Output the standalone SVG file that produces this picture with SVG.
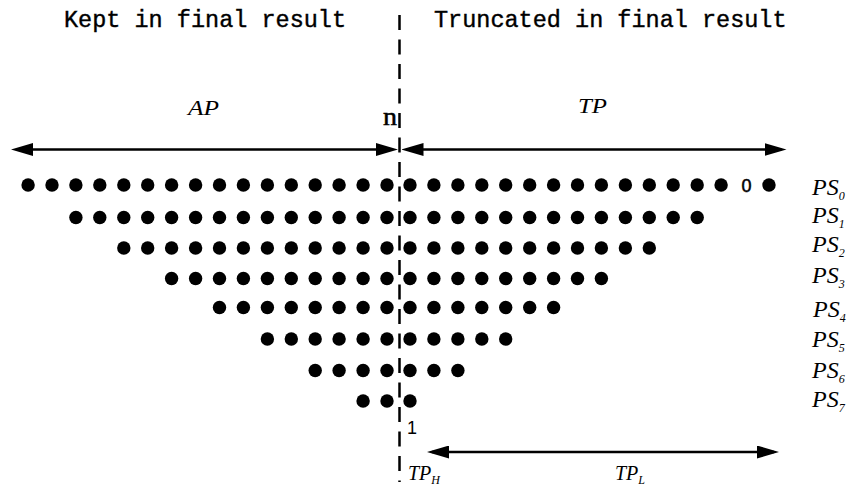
<svg xmlns="http://www.w3.org/2000/svg" xmlns:xlink="http://www.w3.org/1999/xlink" width="851" height="493" viewBox="0 0 851 493">
<style>
.hdr{font-family:"Liberation Mono","DejaVu Sans Mono",monospace;font-size:23.5px;fill:#000;stroke:#000;stroke-width:0.4}
.it{font-family:"Liberation Serif","DejaVu Serif",serif;font-style:italic;fill:#000}
.lab{font-size:24px}
.sub{font-size:12px}
.num{font-family:"Liberation Sans","DejaVu Sans",sans-serif;font-size:18px;fill:#000}
.arr{stroke:#000;stroke-width:2.5;fill:none;marker-start:url(#ah);marker-end:url(#ah)}
.dash{stroke:#000;stroke-width:2.5;stroke-dasharray:15 9.5;fill:none}
</style>
<defs>
<marker id="ah" viewBox="0 0 22 13" markerWidth="22" markerHeight="13" refX="17" refY="6.5" orient="auto-start-reverse" markerUnits="userSpaceOnUse">
<path d="M0,0 L22,6.5 L0,13 z" fill="#000"/>
</marker>
<circle id="dot" r="6.7" fill="#000"/>
</defs>
<rect width="851" height="493" fill="#fff"/>

<g id="headers">
<text class="hdr" x="64" y="27">Kept in final result</text>
<text class="hdr" x="434" y="27">Truncated in final result</text>
</g>

<g id="connectors">
<line class="dash" x1="399.5" y1="15" x2="399.5" y2="482"/>
<line class="arr" x1="16" y1="149.5" x2="393" y2="149.5"/>
<line class="arr" x1="406.5" y1="149.5" x2="781.5" y2="149.5"/>
<line class="arr" x1="432" y1="452" x2="774" y2="452"/>
</g>

<g id="labels">
<text class="it" x="188" y="115" font-size="20" textLength="31" lengthAdjust="spacingAndGlyphs">AP</text>
<text class="it" x="578" y="113" font-size="20" textLength="29" lengthAdjust="spacingAndGlyphs">TP</text>
<text x="383" y="125" font-family="Liberation Serif, serif" font-size="25" stroke="#000" stroke-width="0.5" textLength="14" lengthAdjust="spacingAndGlyphs">n</text>
<text class="num" x="407" y="434">1</text>
<text class="it" x="408" y="480" font-size="20">TP<tspan class="sub" dy="4">H</tspan></text>
<text class="it" x="615" y="480" font-size="20">TP<tspan class="sub" dy="4">L</tspan></text>
</g>

<g id="ps0">
<use href="#dot" x="28.1" y="185"/><use href="#dot" x="52" y="185"/><use href="#dot" x="75.9" y="185"/><use href="#dot" x="99.8" y="185"/><use href="#dot" x="123.8" y="185"/><use href="#dot" x="147.7" y="185"/><use href="#dot" x="171.6" y="185"/><use href="#dot" x="195.6" y="185"/><use href="#dot" x="219.5" y="185"/><use href="#dot" x="243.4" y="185"/><use href="#dot" x="267.4" y="185"/><use href="#dot" x="291.3" y="185"/><use href="#dot" x="315.2" y="185"/><use href="#dot" x="339.1" y="185"/><use href="#dot" x="363.1" y="185"/><use href="#dot" x="387" y="185"/>
<use href="#dot" x="410" y="185"/><use href="#dot" x="433.9" y="185"/><use href="#dot" x="457.9" y="185"/><use href="#dot" x="481.8" y="185"/><use href="#dot" x="505.7" y="185"/><use href="#dot" x="529.7" y="185"/><use href="#dot" x="553.6" y="185"/><use href="#dot" x="577.5" y="185"/><use href="#dot" x="601.4" y="185"/><use href="#dot" x="625.4" y="185"/><use href="#dot" x="649.3" y="185"/><use href="#dot" x="673.2" y="185"/><use href="#dot" x="697.2" y="185"/><use href="#dot" x="721.1" y="185"/>
<text class="num" x="746.5" y="192" text-anchor="middle" font-size="19" stroke="#000" stroke-width="0.5">0</text>
<use href="#dot" x="769" y="185"/>
<text class="it lab" x="812" y="195">PS<tspan class="sub" dy="5">0</tspan></text>
</g>

<g id="ps1">
<use href="#dot" x="75.9" y="217.5"/><use href="#dot" x="99.8" y="217.5"/><use href="#dot" x="123.8" y="217.5"/><use href="#dot" x="147.7" y="217.5"/><use href="#dot" x="171.6" y="217.5"/><use href="#dot" x="195.6" y="217.5"/><use href="#dot" x="219.5" y="217.5"/><use href="#dot" x="243.4" y="217.5"/><use href="#dot" x="267.4" y="217.5"/><use href="#dot" x="291.3" y="217.5"/><use href="#dot" x="315.2" y="217.5"/><use href="#dot" x="339.1" y="217.5"/><use href="#dot" x="363.1" y="217.5"/><use href="#dot" x="387" y="217.5"/>
<use href="#dot" x="410" y="217.5"/><use href="#dot" x="433.9" y="217.5"/><use href="#dot" x="457.9" y="217.5"/><use href="#dot" x="481.8" y="217.5"/><use href="#dot" x="505.7" y="217.5"/><use href="#dot" x="529.7" y="217.5"/><use href="#dot" x="553.6" y="217.5"/><use href="#dot" x="577.5" y="217.5"/><use href="#dot" x="601.4" y="217.5"/><use href="#dot" x="625.4" y="217.5"/><use href="#dot" x="649.3" y="217.5"/><use href="#dot" x="673.2" y="217.5"/><use href="#dot" x="697.2" y="217.5"/>
<text class="it lab" x="812" y="223">PS<tspan class="sub" dy="5">1</tspan></text>
</g>

<g id="ps2">
<use href="#dot" x="123.8" y="248"/><use href="#dot" x="147.7" y="248"/><use href="#dot" x="171.6" y="248"/><use href="#dot" x="195.6" y="248"/><use href="#dot" x="219.5" y="248"/><use href="#dot" x="243.4" y="248"/><use href="#dot" x="267.4" y="248"/><use href="#dot" x="291.3" y="248"/><use href="#dot" x="315.2" y="248"/><use href="#dot" x="339.1" y="248"/><use href="#dot" x="363.1" y="248"/><use href="#dot" x="387" y="248"/>
<use href="#dot" x="410" y="248"/><use href="#dot" x="433.9" y="248"/><use href="#dot" x="457.9" y="248"/><use href="#dot" x="481.8" y="248"/><use href="#dot" x="505.7" y="248"/><use href="#dot" x="529.7" y="248"/><use href="#dot" x="553.6" y="248"/><use href="#dot" x="577.5" y="248"/><use href="#dot" x="601.4" y="248"/><use href="#dot" x="625.4" y="248"/><use href="#dot" x="649.3" y="248"/>
<text class="it lab" x="812" y="252">PS<tspan class="sub" dy="5">2</tspan></text>
</g>

<g id="ps3">
<use href="#dot" x="171.6" y="278.5"/><use href="#dot" x="195.6" y="278.5"/><use href="#dot" x="219.5" y="278.5"/><use href="#dot" x="243.4" y="278.5"/><use href="#dot" x="267.4" y="278.5"/><use href="#dot" x="291.3" y="278.5"/><use href="#dot" x="315.2" y="278.5"/><use href="#dot" x="339.1" y="278.5"/><use href="#dot" x="363.1" y="278.5"/><use href="#dot" x="387" y="278.5"/>
<use href="#dot" x="410" y="278.5"/><use href="#dot" x="433.9" y="278.5"/><use href="#dot" x="457.9" y="278.5"/><use href="#dot" x="481.8" y="278.5"/><use href="#dot" x="505.7" y="278.5"/><use href="#dot" x="529.7" y="278.5"/><use href="#dot" x="553.6" y="278.5"/><use href="#dot" x="577.5" y="278.5"/><use href="#dot" x="601.4" y="278.5"/>
<text class="it lab" x="812" y="283">PS<tspan class="sub" dy="5">3</tspan></text>
</g>

<g id="ps4">
<use href="#dot" x="219.5" y="307.5"/><use href="#dot" x="243.4" y="307.5"/><use href="#dot" x="267.4" y="307.5"/><use href="#dot" x="291.3" y="307.5"/><use href="#dot" x="315.2" y="307.5"/><use href="#dot" x="339.1" y="307.5"/><use href="#dot" x="363.1" y="307.5"/><use href="#dot" x="387" y="307.5"/>
<use href="#dot" x="410" y="307.5"/><use href="#dot" x="433.9" y="307.5"/><use href="#dot" x="457.9" y="307.5"/><use href="#dot" x="481.8" y="307.5"/><use href="#dot" x="505.7" y="307.5"/><use href="#dot" x="529.7" y="307.5"/><use href="#dot" x="553.6" y="307.5"/>
<text class="it lab" x="813" y="317">PS<tspan class="sub" dy="5">4</tspan></text>
</g>

<g id="ps5">
<use href="#dot" x="267.4" y="339"/><use href="#dot" x="291.3" y="339"/><use href="#dot" x="315.2" y="339"/><use href="#dot" x="339.1" y="339"/><use href="#dot" x="363.1" y="339"/><use href="#dot" x="387" y="339"/>
<use href="#dot" x="410" y="339"/><use href="#dot" x="433.9" y="339"/><use href="#dot" x="457.9" y="339"/><use href="#dot" x="481.8" y="339"/><use href="#dot" x="505.7" y="339"/>
<text class="it lab" x="812" y="347">PS<tspan class="sub" dy="5">5</tspan></text>
</g>

<g id="ps6">
<use href="#dot" x="315.2" y="370.5"/><use href="#dot" x="339.1" y="370.5"/><use href="#dot" x="363.1" y="370.5"/><use href="#dot" x="387" y="370.5"/>
<use href="#dot" x="410" y="370.5"/><use href="#dot" x="433.9" y="370.5"/><use href="#dot" x="457.9" y="370.5"/>
<text class="it lab" x="812" y="378">PS<tspan class="sub" dy="5">6</tspan></text>
</g>

<g id="ps7">
<use href="#dot" x="363.1" y="401"/><use href="#dot" x="387" y="401"/>
<use href="#dot" x="410" y="401"/>
<text class="it lab" x="812" y="407">PS<tspan class="sub" dy="5">7</tspan></text>
</g>
</svg>
